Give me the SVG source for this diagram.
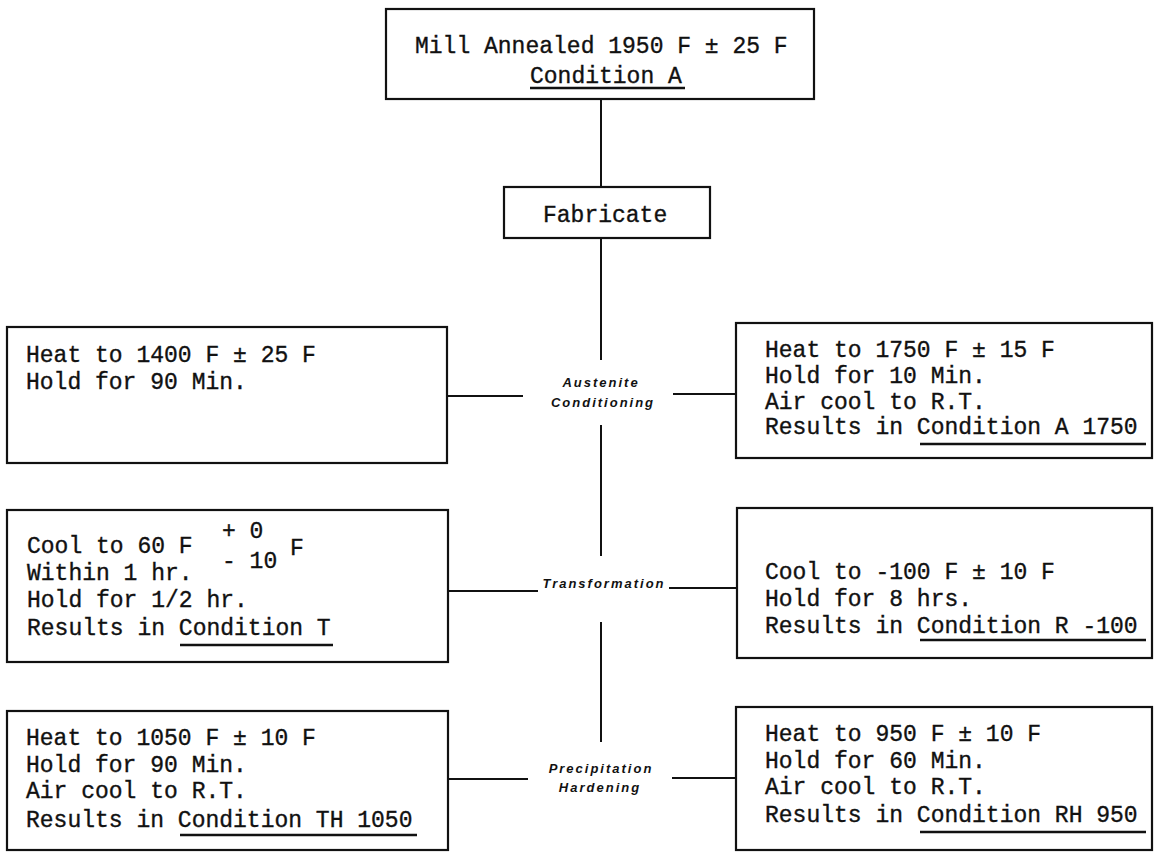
<svg xmlns="http://www.w3.org/2000/svg" width="1158" height="852" viewBox="0 0 1158 852">
<style>
.box{fill:#fff;stroke:#111;stroke-width:2.2}
.t{font-family:"Liberation Mono","DejaVu Sans Mono",monospace;font-size:23px;fill:#111;stroke:#111;stroke-width:0.35}
.lbl{font-family:"Liberation Sans","DejaVu Sans",sans-serif;font-size:13px;font-weight:bold;font-style:italic;letter-spacing:2px;fill:#111;text-anchor:middle}
.ul{stroke:#111;stroke-width:2.6}
.c{stroke:#111;stroke-width:2;fill:none}
</style>
<rect width="1158" height="852" fill="#fff"/>
<g id="connectors">
<path class="c" d="M601 99V187M601 238V360M601 425V556M601 622V742"/>
<path class="c" d="M447 396H523M673 394H736"/>
<path class="c" d="M447 591H538M669 588H736"/>
<path class="c" d="M447 779H528M672 778H735"/>
</g>
<g id="labels">
<text class="lbl" x="601" y="387">Austenite</text>
<text class="lbl" x="603" y="407">Conditioning</text>
<text class="lbl" x="604" y="588">Transformation</text>
<text class="lbl" x="601" y="773">Precipitation</text>
<text class="lbl" x="600" y="792">Hardening</text>
</g>
<g id="n-mill">
<rect class="box" x="386" y="9" width="428" height="90"/>
<text class="t" x="415" y="53">Mill Annealed 1950 F ± 25 F</text>
<text class="t" x="530" y="83">Condition A</text>
<line class="ul" x1="530" y1="88" x2="685" y2="88"/>
</g>
<g id="n-fabricate">
<rect class="box" x="504" y="187" width="206" height="51"/>
<text class="t" x="543" y="222">Fabricate</text>
</g>
<g id="n-heat1400">
<rect class="box" x="7" y="327" width="440" height="136"/>
<text class="t" x="26" y="362">Heat to 1400 F ± 25 F</text>
<text class="t" x="26" y="389">Hold for 90 Min.</text>
</g>
<g id="n-heat1750">
<rect class="box" x="736" y="323" width="416" height="135"/>
<text class="t" x="765" y="357">Heat to 1750 F ± 15 F</text>
<text class="t" x="765" y="383">Hold for 10 Min.</text>
<text class="t" x="765" y="409">Air cool to R.T.</text>
<text class="t" x="765" y="434">Results in Condition A 1750</text>
<line class="ul" x1="920" y1="444" x2="1146" y2="444"/>
</g>
<g id="n-cool60">
<rect class="box" x="7" y="510" width="441" height="152"/>
<text class="t" x="27" y="553">Cool to 60 F</text>
<text class="t" x="222" y="538">+ 0</text>
<text class="t" x="222" y="568">- 10</text>
<text class="t" x="290" y="555">F</text>
<text class="t" x="27" y="580">Within 1 hr.</text>
<text class="t" x="27" y="607">Hold for 1/2 hr.</text>
<text class="t" x="27" y="635">Results in Condition T</text>
<line class="ul" x1="180" y1="645" x2="333" y2="645"/>
</g>
<g id="n-cool100">
<rect class="box" x="737" y="508" width="415" height="150"/>
<text class="t" x="765" y="579">Cool to -100 F ± 10 F</text>
<text class="t" x="765" y="606">Hold for 8 hrs.</text>
<text class="t" x="765" y="633">Results in Condition R -100</text>
<line class="ul" x1="920" y1="640" x2="1146" y2="640"/>
</g>
<g id="n-heat1050">
<rect class="box" x="7" y="711" width="441" height="139"/>
<text class="t" x="26" y="745">Heat to 1050 F ± 10 F</text>
<text class="t" x="26" y="772">Hold for 90 Min.</text>
<text class="t" x="26" y="798">Air cool to R.T.</text>
<text class="t" x="26" y="827">Results in Condition TH 1050</text>
<line class="ul" x1="180" y1="835" x2="417" y2="835"/>
</g>
<g id="n-heat950">
<rect class="box" x="736" y="707" width="416" height="143"/>
<text class="t" x="765" y="741">Heat to 950 F ± 10 F</text>
<text class="t" x="765" y="768">Hold for 60 Min.</text>
<text class="t" x="765" y="794">Air cool to R.T.</text>
<text class="t" x="765" y="822">Results in Condition RH 950</text>
<line class="ul" x1="920" y1="832" x2="1146" y2="832"/>
</g>
</svg>
